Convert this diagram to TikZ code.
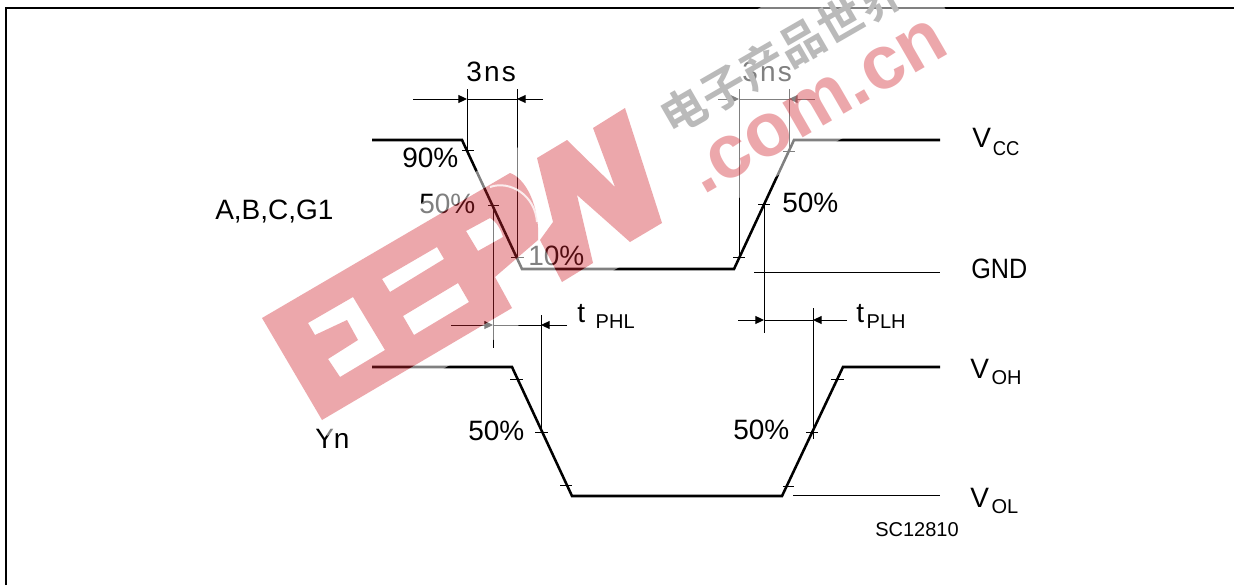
\documentclass[tikz,border=0pt]{standalone}
\usepackage{xcolor}
\usepackage{fontspec}
\usepackage{tikz}
\usetikzlibrary{arrows.meta}
\setmainfont{Liberation Sans}
\newfontfamily\wmfont{Noto Sans CJK SC}[BoldFont=* Bold]
\newcommand{\sublbl}[1]{{\fontsize{15}{15}\selectfont #1}}
\newcommand{\wpath}{
 (537,158) -- (567,140) -- (615,187) -- (593,128) -- (625,108) -- (662,223) -- (630,242) -- (577,195) -- (593,263) -- (562,282) -- (540,240) -- (553,222) -- cycle
}
\newcommand{\eepath}{
 (262,318) -- (510,173) .. controls (525,178) and (540,205) .. (538,240) -- (495,277) -- (512,308) -- (322,420) -- cycle
 (308,323) -- (353,297) -- (385,350) -- (340,377) -- (328,359) -- (358,340) -- (347,320) -- (315,335) -- cycle
 (382,279) -- (437,247) -- (444,259) -- (390,292) -- cycle
 (403,316) -- (458,283) -- (469,302) -- (414,335) -- cycle
 (466,231) -- (490,218) .. controls (497,222) and (501,230) .. (503,237) -- (478,251) -- cycle
}
\definecolor{wmred}{RGB}{208,35,45}
\tikzset{
 lbl/.style={anchor=base west,inner sep=0pt,font=\fontsize{21}{21}\selectfont},
 wave/.style={line width=1.9pt,line join=miter},
 thin line/.style={line width=0.75pt},
 dimtip/.style={-{Triangle[length=6.5pt,width=6pt]},line width=0.75pt},
}

\begin{document}
\begin{tikzpicture}[x=0.75pt,y=0.75pt,yscale=-1,xscale=1]
\useasboundingbox (0,0) rectangle (1234,585);

%Frame
\draw [line width=1.9pt] (6,585) -- (6,8) -- (1234,8) ;

%Input waveform
\draw [wave] (372,140) -- (462,140) -- (522,269) -- (734,269) -- (794,140) -- (940,140) ;
%Output waveform
\draw [wave] (372,367) -- (512,367) -- (572,496) -- (782,496) -- (843,367) -- (940,367) ;

%Ticks
\draw [thin line] (462,150) -- (474,150) ;
\draw [thin line] (488,205) -- (499,205) ;
\draw [thin line] (511,257) -- (524,257) ;
\draw [thin line] (733,257) -- (745,257) ;
\draw [thin line] (758,204) -- (770,204) ;
\draw [thin line] (783,151) -- (795,151) ;
\draw [thin line] (510,379) -- (523,379) ;
\draw [thin line] (535,432) -- (548,432) ;
\draw [thin line] (560,485) -- (572,485) ;
\draw [thin line] (783,486) -- (794,486) ;
\draw [thin line] (806,432) -- (818,432) ;
\draw [thin line] (831,379) -- (844,379) ;

%Vertical Lines
\draw [thin line] (467,89) -- (467,150) ;
\draw [thin line] (517,89) -- (517,257) ;
\draw [thin line] (739,89) -- (739,257) ;
\draw [thin line] (789,89) -- (789,151) ;
\draw [thin line] (493,205) -- (493,348) ;
\draw [thin line] (541,315) -- (541,432) ;
\draw [thin line] (764,204) -- (764,333) ;
\draw [thin line] (813,308) -- (813,439) ;

%Level Lines
\draw [thin line] (754,272) -- (940,272) ;
\draw [thin line] (793,495) -- (940,495) ;

%Dimension Lines
\draw [dimtip] (413,99) -- (467,99) ;
\draw [thin line] (467,99) -- (517,99) ;
\draw [dimtip] (543,99) -- (517,99) ;
\draw [dimtip] (718,99) -- (739,99) ;
\draw [thin line] (739,99) -- (789,99) ;
\draw [dimtip] (815,99) -- (789,99) ;
\draw [dimtip] (451,325) -- (493,325) ;
\draw [thin line] (493,325) -- (541,325) ;
\draw [dimtip] (567,325) -- (541,325) ;
\draw [dimtip] (738,320) -- (764,320) ;
\draw [thin line] (764,320) -- (813,320) ;
\draw [dimtip] (847,320) -- (813,320) ;

% Text Node
\draw (466,82) node (fall3ns) [lbl] {\addfontfeature{LetterSpace=8}3ns};
\draw (742,82) node (rise3ns) [lbl] {\addfontfeature{LetterSpace=8}3ns};
\draw (402,167) node (fall90) [lbl] {90\%};
\draw (419,213) node (fall50) [lbl] {50\%};
\draw (528,265) node (fall10) [lbl] {10\%};
\draw (782,212) node (rise50) [lbl] {50\%};
\draw (468,440) node (outfall50) [lbl] {50\%};
\draw (733,439) node (outrise50) [lbl] {50\%};
\draw (215,219) node (inname) [lbl] {A,B,C,G1};
\draw (315,448) node (outname) [lbl] {Yn};
\draw (972,147) node (vcc) [lbl] {V\hspace{1.5pt}\raisebox{-6pt}{\sublbl{\scalebox{0.92}[1]{CC}}}};
\draw (971,278) node (gnd) [lbl] {\scalebox{0.9}[1]{GND}};
\draw (970,378) node (voh) [lbl] {V\hspace{2pt}\raisebox{-5pt}{\sublbl{OH}}};
\draw (970,507) node (vol) [lbl] {V\hspace{2pt}\raisebox{-5pt}{\sublbl{OL}}};
\draw (577,322) node (tphl) [lbl] {t\hspace{8pt}\raisebox{-5pt}{\sublbl{PHL}}};
\draw (856,322) node (tplh) [lbl] {t\hspace{2pt}\raisebox{-5pt}{\sublbl{PLH}}};
\draw (875,536) node (figid) [lbl,font=\fontsize{15}{15}\selectfont] {SC12810};

%Watermark halo
\fill [white,fill opacity=0.5,even odd rule] (250,302) -- (898,-72) -- (976,61) -- (327,436) -- cycle \eepath \wpath ;
%Watermark
\fill [wmred,fill opacity=0.4,even odd rule] \eepath ;
\fill [wmred,fill opacity=0.4] \wpath ;
\draw [white,line width=1.5pt,opacity=0.8] (490,187) .. controls (510,180) and (535,195) .. (537,222) ;
\draw (703,196) node (wmsite) [anchor=base west,inner sep=0pt,rotate=30,text=wmred,text opacity=0.4,font=\fontsize{57}{57}\selectfont\bfseries] {.com.cn};
\draw (782,54) node (wmname) [inner sep=0pt,rotate=30,text=black!27,font=\fontsize{34}{34}\selectfont\wmfont\bfseries] {电子产品世界};

\end{tikzpicture}
\end{document}
